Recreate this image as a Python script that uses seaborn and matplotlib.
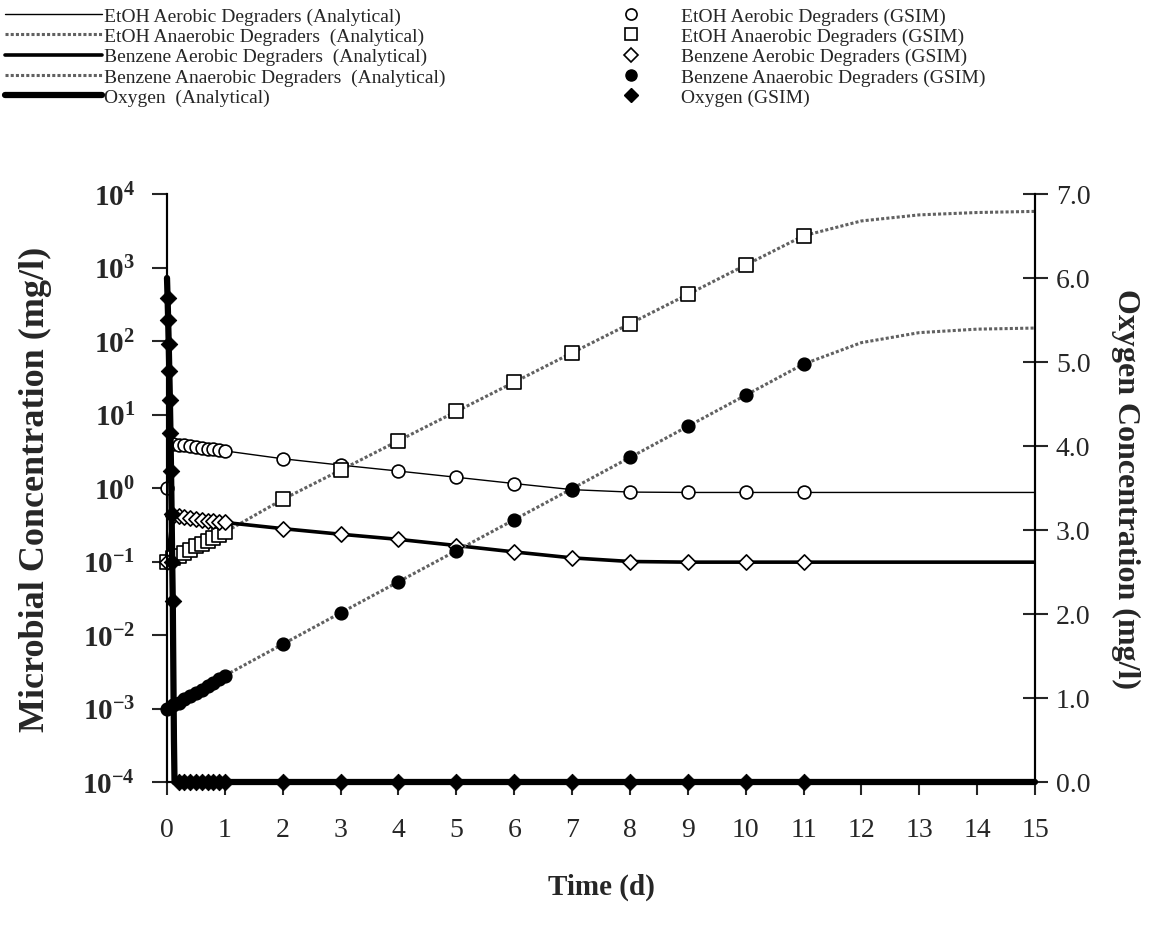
import matplotlib
matplotlib.use('Agg')
import matplotlib.pyplot as plt
import seaborn as sns
from matplotlib.lines import Line2D

sns.set_style('white')
plt.rcParams['font.family'] = ['Liberation Serif', 'DejaVu Serif']
plt.rcParams['mathtext.fontset'] = 'custom'
plt.rcParams['mathtext.rm'] = 'Liberation Serif'
plt.rcParams['mathtext.bf'] = 'Liberation Serif:bold'

# GSIM (simulated) sample times and values
t_gsim = [0, 0.1, 0.2, 0.3, 0.4, 0.5, 0.6, 0.7, 0.8, 0.9, 1.0,
          2, 3, 4, 5, 6, 7, 8, 9, 10, 11]
etoh_aer_gsim = [1.0, 4.0, 3.9, 3.8, 3.7, 3.6, 3.5, 3.4, 3.35, 3.25, 3.2,
                 2.5, 2.05, 1.7, 1.4, 1.15, 0.95, 0.88, 0.87, 0.87, 0.87]
etoh_ana_gsim = [0.1, 0.11, 0.12, 0.13, 0.145, 0.16, 0.175, 0.19, 0.21, 0.23, 0.25,
                 0.7, 1.75, 4.4, 11, 27.5, 69, 172, 430, 1080, 2700]
benz_aer_gsim = [0.1, 0.42, 0.41, 0.40, 0.39, 0.38, 0.37, 0.36, 0.355, 0.35, 0.34,
                 0.28, 0.235, 0.2, 0.165, 0.135, 0.112, 0.1, 0.098, 0.098, 0.098]
benz_ana_gsim = [0.001, 0.0011, 0.0012, 0.00135, 0.0015, 0.0016, 0.0018, 0.002, 0.0022, 0.0025, 0.0028,
                 0.0075, 0.02, 0.053, 0.14, 0.37, 0.98, 2.6, 6.9, 18.3, 48.5]

t_o2_gsim = [0.01, 0.02, 0.03, 0.04, 0.05, 0.06, 0.07, 0.08, 0.09, 0.10,
             0.2, 0.3, 0.4, 0.5, 0.6, 0.7, 0.8, 0.9, 1.0,
             2, 3, 4, 5, 6, 7, 8, 9, 10, 11]
o2_gsim = [5.76, 5.50, 5.21, 4.89, 4.55, 4.15, 3.7, 3.19, 2.62, 2.15,
           0, 0, 0, 0, 0, 0, 0, 0, 0,
           0, 0, 0, 0, 0, 0, 0, 0, 0, 0]

# analytical solution
t_ana = [0, 0.1, 0.2, 0.3, 0.4, 0.5, 0.6, 0.7, 0.8, 0.9, 1.0,
         2, 3, 4, 5, 6, 7, 8, 9, 10, 11, 12, 13, 14, 15]
etoh_aer_ana = etoh_aer_gsim + [0.87, 0.87, 0.87, 0.87]
etoh_ana_ana = etoh_ana_gsim + [4300, 5200, 5600, 5800]
benz_aer_ana = benz_aer_gsim + [0.098, 0.098, 0.098, 0.098]
benz_ana_ana = benz_ana_gsim + [95, 130, 145, 150]

t_o2_ana = [0, 0.01, 0.02, 0.03, 0.04, 0.05, 0.06, 0.07, 0.08, 0.09, 0.10, 0.11, 0.12, 0.13, 15]
o2_ana = [6.0, 5.76, 5.50, 5.21, 4.89, 4.55, 4.15, 3.7, 3.19, 2.62, 2.15, 1.3, 0.5, 0.0, 0.0]

ana_labels = ['EtOH Aerobic Degraders (Analytical)',
              'EtOH Anaerobic Degraders  (Analytical)',
              'Benzene Aerobic Degraders  (Analytical)',
              'Benzene Anaerobic Degraders  (Analytical)',
              'Oxygen  (Analytical)']
gsim_labels = ['EtOH Aerobic Degraders (GSIM)',
               'EtOH Anaerobic Degraders (GSIM)',
               'Benzene Aerobic Degraders (GSIM)',
               'Benzene Anaerobic Degraders (GSIM)',
               'Oxygen (GSIM)']

wavy = dict(color='0.38', lw=2.2, dashes=(1, 0.7))

fig = plt.figure(figsize=(11.5, 9.28), dpi=100)
ax = fig.add_axes([167 / 1150, 1 - 783 / 928, (1035 - 167) / 1150, (783 - 195) / 928])
ax2 = ax.twinx()

# analytical lines
sns.lineplot(x=t_ana, y=etoh_aer_ana, ax=ax, color='k', lw=1.0, estimator=None, sort=False, zorder=2)
sns.lineplot(x=t_ana, y=etoh_ana_ana, ax=ax, estimator=None, sort=False, zorder=2, **wavy)
sns.lineplot(x=t_ana, y=benz_aer_ana, ax=ax, color='k', lw=2.6, estimator=None, sort=False, zorder=2)
sns.lineplot(x=t_ana, y=benz_ana_ana, ax=ax, estimator=None, sort=False, zorder=2, **wavy)

# GSIM markers
sns.scatterplot(x=t_gsim, y=etoh_aer_gsim, ax=ax, marker='o', s=85, color='white',
                edgecolor='k', linewidth=1.2, zorder=4, clip_on=False)
sns.scatterplot(x=t_gsim, y=etoh_ana_gsim, ax=ax, marker='s', s=95, color='white',
                edgecolor='k', linewidth=1.2, zorder=4, clip_on=False)
sns.scatterplot(x=t_gsim, y=benz_aer_gsim, ax=ax, marker='D', s=60, color='white',
                edgecolor='k', linewidth=1.2, zorder=4, clip_on=False)
sns.scatterplot(x=t_gsim, y=benz_ana_gsim, ax=ax, marker='o', s=85, color='k',
                edgecolor='k', linewidth=1.0, zorder=4, clip_on=False)

# oxygen on right axis
sns.lineplot(x=t_o2_ana, y=o2_ana, ax=ax2, color='k', lw=4.5, estimator=None, sort=False,
             zorder=3, clip_on=False)
sns.scatterplot(x=t_o2_gsim, y=o2_gsim, ax=ax2, marker='D', s=70, color='k',
                edgecolor='k', zorder=5, clip_on=False)

ax.set_yscale('log')
ax.set_xlim(0, 15)
ax.set_ylim(1e-4, 1e4)
ax2.set_ylim(0, 7)

ax.set_xticks(range(16))
ax.set_xticklabels([str(i) for i in range(16)], fontsize=20)
exps = list(range(-4, 5))
ax.set_yticks([10.0 ** e for e in exps])
ax.set_yticklabels([r'$\mathbf{10^{%d}}$' % e for e in exps], fontsize=21)
ax.minorticks_off()
ax2.set_yticks(range(8))
ax2.set_yticklabels(['%.1f' % v for v in range(8)], fontsize=20)

for a in (ax, ax2):
    a.spines['top'].set_visible(False)
    for s in ('left', 'right', 'bottom'):
        a.spines[s].set_linewidth(1.5)
        a.spines[s].set_color('k')
ax.tick_params(axis='y', which='major', direction='out', length=11, width=1.5, pad=12, left=True)
ax.tick_params(axis='x', which='major', direction='out', length=9, width=1.5, pad=16, bottom=True)
ax2.tick_params(axis='y', which='major', direction='inout', length=18, width=1.5, pad=6, right=True)

ax.set_xlabel('Time (d)', fontsize=21, fontweight='bold', labelpad=22)
ax.set_ylabel('Microbial Concentration (mg/l)', fontsize=26, fontweight='bold', labelpad=22)
ax2.set_ylabel('Oxygen Concentration (mg/l)', fontsize=23, fontweight='bold', rotation=270, labelpad=36)

# legend: analytical lines (left column) and GSIM markers (right column)
ana_handles = [Line2D([], [], color='k', lw=1.0),
               Line2D([], [], **wavy),
               Line2D([], [], color='k', lw=2.6),
               Line2D([], [], **wavy),
               Line2D([], [], color='k', lw=4.5)]
gsim_handles = [Line2D([], [], ls='none', marker='o', ms=8, mfc='white', mec='k', mew=1.2),
                Line2D([], [], ls='none', marker='s', ms=9, mfc='white', mec='k', mew=1.2),
                Line2D([], [], ls='none', marker='D', ms=7, mfc='white', mec='k', mew=1.2),
                Line2D([], [], ls='none', marker='o', ms=8, mfc='k', mec='k'),
                Line2D([], [], ls='none', marker='D', ms=7, mfc='k', mec='k')]
leg_kw = dict(loc='upper left', frameon=False, fontsize=14, handlelength=5.0,
              handletextpad=0.1, labelspacing=0.14, borderpad=0, borderaxespad=0)
fig.legend(handles=ana_handles, labels=ana_labels, bbox_to_anchor=(0.004, 1 - 8 / 928), **leg_kw)
fig.legend(handles=gsim_handles, labels=gsim_labels, bbox_to_anchor=(582 / 1150, 1 - 8 / 928), **leg_kw)

fig.savefig('out.png', dpi=100)
